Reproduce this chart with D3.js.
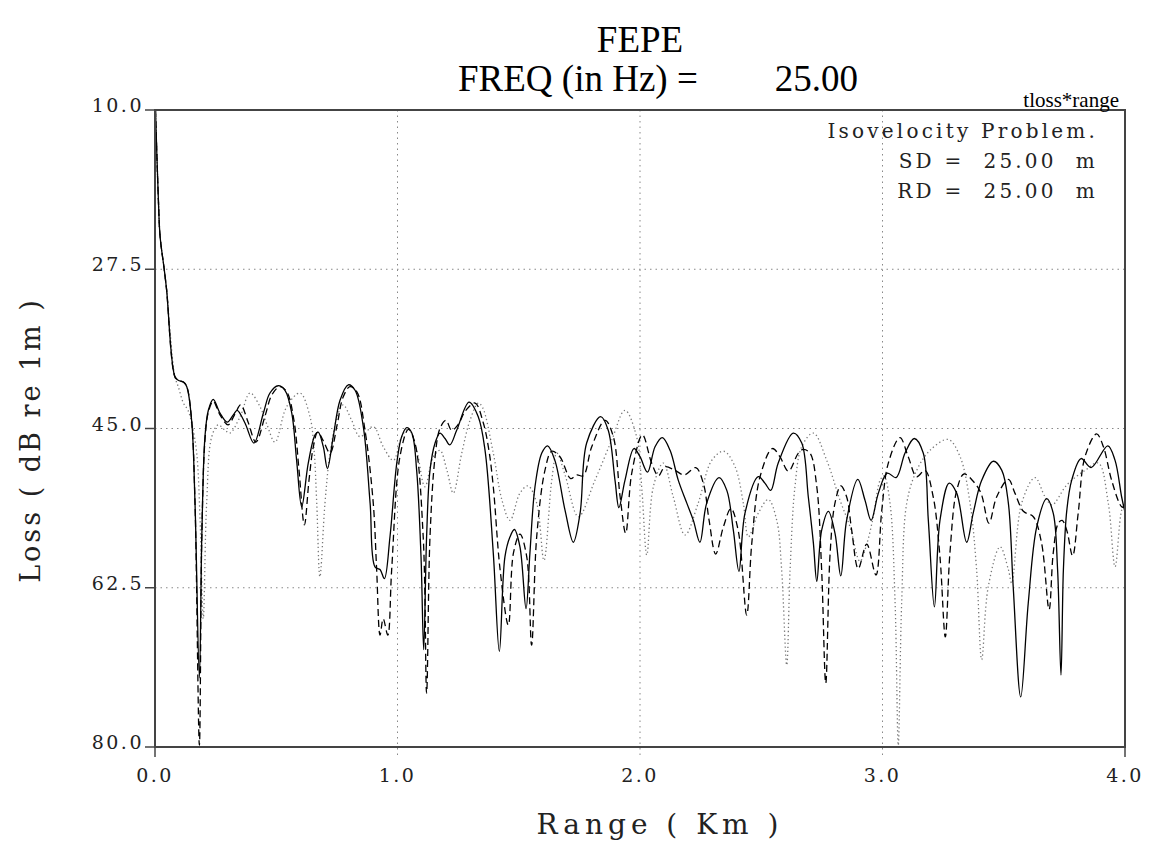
<!DOCTYPE html>
<html>
<head>
<meta charset="utf-8">
<script src="https://cdn.jsdelivr.net/npm/d3@7"></script>
<style>
  body { margin: 0; background: #fff; }
  svg { display: block; }
</style>
</head>
<body>
<div id="chart"></div>
<script>
// ---- data (range in km, transmission loss in dB) ----
var xTicks = [0, 1, 2, 3, 4];
var yTicks = [10, 27.5, 45, 62.5, 80];

// near-field descent shared by all three runs
var commonStart = [[0.002, 10.0], [0.014, 19.9], [0.021, 23.9], [0.038, 27.5], [0.048, 29.8], [0.082, 39.3]];

var solidPts = [
  [0.096, 39.7], [0.117, 39.9], [0.131, 40.4], [0.151, 44.1], [0.165, 53.2], [0.183, 72.4], [0.193, 56.9],
  [0.206, 45.9], [0.220, 43.0], [0.240, 41.8], [0.268, 43.3], [0.298, 44.3], [0.323, 43.5], [0.339, 43.0],
  [0.371, 44.4], [0.408, 46.6], [0.447, 43.3], [0.474, 41.1], [0.508, 40.3], [0.536, 40.8], [0.564, 43.3],
  [0.584, 48.5], [0.605, 53.6], [0.632, 48.8], [0.660, 45.7], [0.673, 45.4], [0.694, 47.0], [0.711, 49.4],
  [0.735, 45.9], [0.763, 41.9], [0.797, 40.2], [0.825, 40.8], [0.859, 44.8], [0.887, 53.2], [0.907, 60.2],
  [0.928, 60.5], [0.946, 61.5], [0.969, 56.9], [0.997, 48.8], [1.017, 45.9], [1.038, 44.9], [1.059, 45.5],
  [1.079, 49.6], [1.097, 59.1], [1.108, 69.3], [1.120, 56.9], [1.134, 49.6], [1.155, 46.6], [1.175, 45.5],
  [1.196, 46.1], [1.216, 46.8], [1.244, 45.2], [1.295, 42.1], [1.333, 43.7], [1.361, 47.4], [1.395, 58.7],
  [1.420, 69.5], [1.443, 59.1], [1.464, 56.9], [1.482, 56.1], [1.505, 58.0], [1.530, 64.8], [1.546, 58.7],
  [1.567, 51.4], [1.595, 47.7], [1.619, 46.9], [1.649, 48.5], [1.691, 54.0], [1.725, 57.5], [1.753, 54.3],
  [1.780, 46.6], [1.838, 43.7], [1.869, 45.2], [1.897, 50.7], [1.913, 53.7], [1.938, 50.7], [1.975, 47.2],
  [2.000, 48.1], [2.031, 49.8], [2.062, 47.0], [2.092, 46.0], [2.124, 47.4], [2.158, 50.7], [2.193, 53.2],
  [2.220, 55.1], [2.247, 57.5], [2.275, 53.2], [2.326, 50.4], [2.358, 51.8], [2.385, 56.2], [2.408, 60.7],
  [2.433, 54.3], [2.488, 50.3], [2.515, 51.0], [2.539, 51.8], [2.570, 48.8], [2.632, 45.5], [2.667, 46.6],
  [2.694, 52.5], [2.715, 57.6], [2.729, 61.8], [2.749, 56.2], [2.777, 54.1], [2.804, 56.5], [2.828, 61.2],
  [2.852, 55.1], [2.898, 50.6], [2.928, 52.9], [2.953, 55.1], [2.983, 52.1], [3.020, 49.9], [3.056, 50.4],
  [3.093, 47.7], [3.131, 46.1], [3.168, 47.7], [3.189, 55.1], [3.214, 64.6], [3.237, 55.1], [3.275, 51.0],
  [3.306, 52.1], [3.347, 57.5], [3.374, 54.3], [3.409, 50.7], [3.457, 48.6], [3.492, 49.6], [3.519, 53.2],
  [3.539, 62.4], [3.570, 74.5], [3.601, 64.2], [3.636, 55.8], [3.677, 52.7], [3.704, 54.3], [3.722, 60.5],
  [3.736, 72.1], [3.746, 60.5], [3.760, 54.0], [3.780, 50.7], [3.819, 48.3], [3.860, 49.3], [3.929, 46.9],
  [3.959, 48.5], [3.986, 52.5], [4.000, 54.2]
];

var dashedPts = [
  [0.096, 39.7], [0.117, 39.9], [0.131, 40.4], [0.151, 44.1], [0.165, 53.2], [0.183, 79.8], [0.193, 56.9],
  [0.206, 46.3], [0.220, 43.2], [0.240, 42.0], [0.268, 43.5], [0.301, 44.6], [0.330, 43.4], [0.353, 42.4],
  [0.384, 44.3], [0.416, 46.5], [0.454, 43.6], [0.482, 41.3], [0.515, 40.4], [0.544, 41.0], [0.573, 44.1],
  [0.594, 49.6], [0.616, 55.6], [0.635, 50.7], [0.653, 47.0], [0.671, 45.4], [0.693, 46.3], [0.722, 47.7],
  [0.751, 44.6], [0.775, 41.6], [0.804, 40.4], [0.833, 41.0], [0.866, 45.2], [0.900, 53.2], [0.914, 60.5],
  [0.928, 67.7], [0.941, 65.9], [0.960, 67.7], [0.976, 60.5], [1.010, 48.1], [1.045, 45.1], [1.072, 46.6],
  [1.106, 56.9], [1.120, 74.1], [1.134, 56.9], [1.155, 48.1], [1.175, 45.0], [1.200, 44.1], [1.223, 45.2],
  [1.249, 44.6], [1.282, 43.0], [1.320, 42.2], [1.354, 44.4], [1.377, 47.4], [1.395, 51.4], [1.423, 60.5],
  [1.457, 66.6], [1.478, 58.7], [1.505, 56.6], [1.533, 59.1], [1.553, 68.8], [1.574, 56.9], [1.608, 49.6],
  [1.636, 47.5], [1.670, 48.1], [1.714, 50.5], [1.739, 50.1], [1.766, 50.2], [1.801, 47.0], [1.856, 44.1],
  [1.890, 45.9], [1.918, 52.5], [1.941, 56.5], [1.966, 49.9], [2.010, 45.7], [2.048, 48.8], [2.076, 50.2],
  [2.103, 49.2], [2.144, 49.6], [2.183, 50.1], [2.230, 49.3], [2.261, 51.0], [2.285, 55.1], [2.312, 58.8],
  [2.344, 55.8], [2.375, 53.8], [2.405, 56.2], [2.440, 65.5], [2.461, 57.6], [2.495, 50.3], [2.546, 47.2],
  [2.577, 48.1], [2.612, 49.7], [2.653, 47.7], [2.673, 47.3], [2.701, 47.7], [2.729, 51.4], [2.749, 60.5],
  [2.766, 73.0], [2.784, 58.7], [2.804, 53.2], [2.828, 51.3], [2.852, 52.5], [2.873, 56.2], [2.900, 60.4],
  [2.935, 57.7], [2.973, 61.1], [2.997, 54.0], [3.024, 48.8], [3.072, 46.0], [3.106, 48.1], [3.141, 50.3],
  [3.175, 49.6], [3.209, 52.5], [3.237, 59.1], [3.259, 67.9], [3.278, 58.7], [3.306, 51.8], [3.336, 50.0],
  [3.374, 50.8], [3.406, 52.1], [3.439, 55.4], [3.471, 52.5], [3.519, 50.6], [3.546, 52.1], [3.581, 54.1],
  [3.622, 54.7], [3.656, 57.6], [3.687, 64.9], [3.704, 58.7], [3.725, 55.4], [3.741, 55.1], [3.760, 56.2],
  [3.784, 59.0], [3.807, 54.3], [3.835, 48.1], [3.883, 45.6], [3.911, 47.0], [3.945, 50.7], [3.986, 53.6],
  [4.000, 53.7]
];

var dottedPts = [
  [0.096, 40.4], [0.117, 42.2], [0.136, 43.0], [0.153, 44.6], [0.172, 47.7], [0.186, 55.1], [0.199, 65.9],
  [0.213, 53.2], [0.234, 45.9], [0.261, 44.6], [0.289, 45.2], [0.309, 45.5], [0.351, 43.7], [0.392, 41.1],
  [0.433, 42.6], [0.462, 44.6], [0.495, 46.5], [0.543, 42.6], [0.598, 41.1], [0.639, 43.7], [0.656, 47.4],
  [0.667, 53.2], [0.680, 61.3], [0.701, 53.2], [0.722, 47.7], [0.756, 43.3], [0.776, 42.4], [0.811, 44.1],
  [0.845, 45.9], [0.900, 44.8], [0.941, 47.0], [0.983, 48.5], [1.017, 45.9], [1.045, 45.0], [1.079, 47.4],
  [1.113, 51.4], [1.148, 48.1], [1.175, 47.4], [1.204, 49.6], [1.230, 52.1], [1.265, 47.7], [1.299, 44.1],
  [1.333, 42.2], [1.351, 42.7], [1.395, 47.7], [1.431, 52.9], [1.464, 55.1], [1.505, 52.1], [1.538, 51.3],
  [1.574, 53.2], [1.604, 59.5], [1.636, 50.7], [1.657, 47.7], [1.691, 50.1], [1.746, 54.7], [1.814, 50.7],
  [1.883, 46.3], [1.938, 43.0], [1.986, 45.9], [2.008, 51.8], [2.028, 58.9], [2.055, 51.4], [2.096, 48.8],
  [2.137, 52.5], [2.186, 56.7], [2.240, 53.2], [2.296, 48.5], [2.346, 47.5], [2.392, 49.2], [2.426, 53.2],
  [2.447, 56.9], [2.488, 54.3], [2.529, 52.8], [2.564, 55.1], [2.584, 60.5], [2.605, 71.0], [2.619, 60.5],
  [2.639, 51.4], [2.667, 47.0], [2.715, 45.5], [2.770, 48.5], [2.825, 52.9], [2.866, 55.8], [2.907, 59.6],
  [2.935, 57.7], [2.962, 54.7], [2.990, 50.7], [3.006, 50.2], [3.031, 53.2], [3.052, 64.2], [3.065, 79.8],
  [3.079, 64.2], [3.100, 53.2], [3.141, 49.6], [3.196, 47.4], [3.271, 46.2], [3.320, 48.1], [3.361, 53.2],
  [3.388, 60.5], [3.409, 70.4], [3.436, 62.4], [3.485, 58.0], [3.519, 60.5], [3.533, 62.0], [3.574, 53.2],
  [3.629, 50.4], [3.670, 52.5], [3.699, 53.4], [3.760, 51.2], [3.835, 49.6], [3.890, 48.8], [3.931, 53.2],
  [3.959, 60.2], [3.986, 54.0], [4.000, 53.2]
];

var infoLines = ["Isovelocity Problem.", "SD =  25.00  m", "RD =  25.00  m"];

// ---- layout ----
var W = 1151, H = 845;
var margin = { top: 110, right: 26, bottom: 98, left: 155 },
    width = W - margin.left - margin.right,
    height = H - margin.top - margin.bottom;

var svg = d3.select("#chart").append("svg")
    .attr("width", W)
    .attr("height", H);

var g = svg.append("g")
    .attr("transform", "translate(" + margin.left + "," + margin.top + ")");

var x = d3.scaleLinear().domain([0, 4]).range([0, width]);
var y = d3.scaleLinear().domain([10, 80]).range([0, height]);

var tickFont = "'DejaVu Serif', serif";

// grid lines (dotted)
g.selectAll(".vgrid")
    .data(xTicks.slice(1, -1))
    .enter().append("line")
    .attr("x1", d => x(d)).attr("x2", d => x(d))
    .attr("y1", 0).attr("y2", height + 10)
    .attr("stroke", "#888").attr("stroke-width", 1)
    .attr("stroke-dasharray", "1.5,4");

g.selectAll(".hgrid")
    .data(yTicks.slice(1, -1))
    .enter().append("line")
    .attr("x1", 0).attr("x2", width)
    .attr("y1", d => y(d)).attr("y2", d => y(d))
    .attr("stroke", "#888").attr("stroke-width", 1)
    .attr("stroke-dasharray", "1.5,4");

// curves
var clip = svg.append("defs").append("clipPath").attr("id", "clip")
    .append("rect").attr("x", 0).attr("y", -1).attr("width", width).attr("height", height + 1);

var line = d3.line()
    .x(d => x(d[0]))
    .y(d => y(Math.min(d[1], 80)))
    .curve(d3.curveCatmullRom.alpha(0.5));

var curves = g.append("g").attr("clip-path", "url(#clip)");

curves.append("path")
    .datum(commonStart.concat(dottedPts))
    .attr("fill", "none").attr("stroke", "#777").attr("stroke-width", 1.3)
    .attr("stroke-dasharray", "1.3,2.7")
    .attr("d", line);

curves.append("path")
    .datum(commonStart.concat(dashedPts))
    .attr("fill", "none").attr("stroke", "#000").attr("stroke-width", 1.3)
    .attr("stroke-dasharray", "7,4")
    .attr("d", line);

curves.append("path")
    .datum(commonStart.concat(solidPts))
    .attr("fill", "none").attr("stroke", "#000").attr("stroke-width", 1.3)
    .attr("d", line);

// frame
g.append("rect")
    .attr("x", 0).attr("y", 0).attr("width", width).attr("height", height)
    .attr("fill", "none").attr("stroke", "#444").attr("stroke-width", 2);

// y axis ticks + labels (label sits on the tick line)
var yAxis = g.append("g");
yAxis.selectAll("line")
    .data(yTicks).enter().append("line")
    .attr("x1", -10).attr("x2", 0)
    .attr("y1", d => y(d)).attr("y2", d => y(d))
    .attr("stroke", "#444").attr("stroke-width", 1.5);
yAxis.selectAll("text")
    .data(yTicks).enter().append("text")
    .attr("x", -11).attr("y", d => y(d) + 2)
    .attr("text-anchor", "end")
    .attr("font-family", tickFont).attr("font-size", 19)
    .attr("letter-spacing", 2.5)
    .attr("fill", "#222")
    .text(d => d.toFixed(1));

// x axis ticks + labels
var xAxis = g.append("g").attr("transform", "translate(0," + height + ")");
xAxis.selectAll("line")
    .data([xTicks[0], xTicks[xTicks.length - 1]]).enter().append("line")
    .attr("x1", d => x(d)).attr("x2", d => x(d))
    .attr("y1", 0).attr("y2", 10)
    .attr("stroke", "#444").attr("stroke-width", 1.5);
xAxis.selectAll("text")
    .data(xTicks).enter().append("text")
    .attr("x", d => x(d)).attr("y", 35)
    .attr("text-anchor", "middle")
    .attr("font-family", tickFont).attr("font-size", 19)
    .attr("letter-spacing", 2.5)
    .attr("fill", "#222")
    .text(d => d.toFixed(1));

// axis titles
svg.append("text")
    .attr("x", 660).attr("y", 834)
    .attr("text-anchor", "middle")
    .attr("font-family", tickFont).attr("font-size", 28)
    .attr("letter-spacing", 5)
    .attr("fill", "#222")
    .text("Range ( Km )");

svg.append("text")
    .attr("transform", "translate(40,440) rotate(-90)")
    .attr("text-anchor", "middle")
    .attr("font-family", tickFont).attr("font-size", 27)
    .attr("letter-spacing", 3)
    .attr("fill", "#222")
    .text("Loss ( dB re 1m )");

// title
var titleFont = "'Liberation Serif', 'Times New Roman', serif";
svg.append("text")
    .attr("x", 640).attr("y", 52)
    .attr("text-anchor", "middle")
    .attr("font-family", titleFont).attr("font-size", 37)
    .text("FEPE");
svg.append("text")
    .attr("x", 458).attr("y", 91)
    .attr("text-anchor", "start")
    .attr("font-family", titleFont).attr("font-size", 37)
    .text("FREQ (in Hz) =");
svg.append("text")
    .attr("x", 858).attr("y", 91)
    .attr("text-anchor", "end")
    .attr("font-family", titleFont).attr("font-size", 37)
    .text("25.00");

// annotation top right
svg.append("text")
    .attr("x", 1119).attr("y", 107)
    .attr("text-anchor", "end")
    .attr("font-family", titleFont).attr("font-size", 21)
    .text("tloss*range");

svg.selectAll(".info")
    .data(infoLines).enter().append("text")
    .attr("x", 1098).attr("y", (d, i) => 138 + i * 30)
    .attr("text-anchor", "end")
    .attr("font-family", tickFont).attr("font-size", 20)
    .attr("letter-spacing", 3.2)
    .attr("fill", "#222")
    .attr("xml:space", "preserve")
    .style("white-space", "pre")
    .text(d => d);
</script>
</body>
</html>
